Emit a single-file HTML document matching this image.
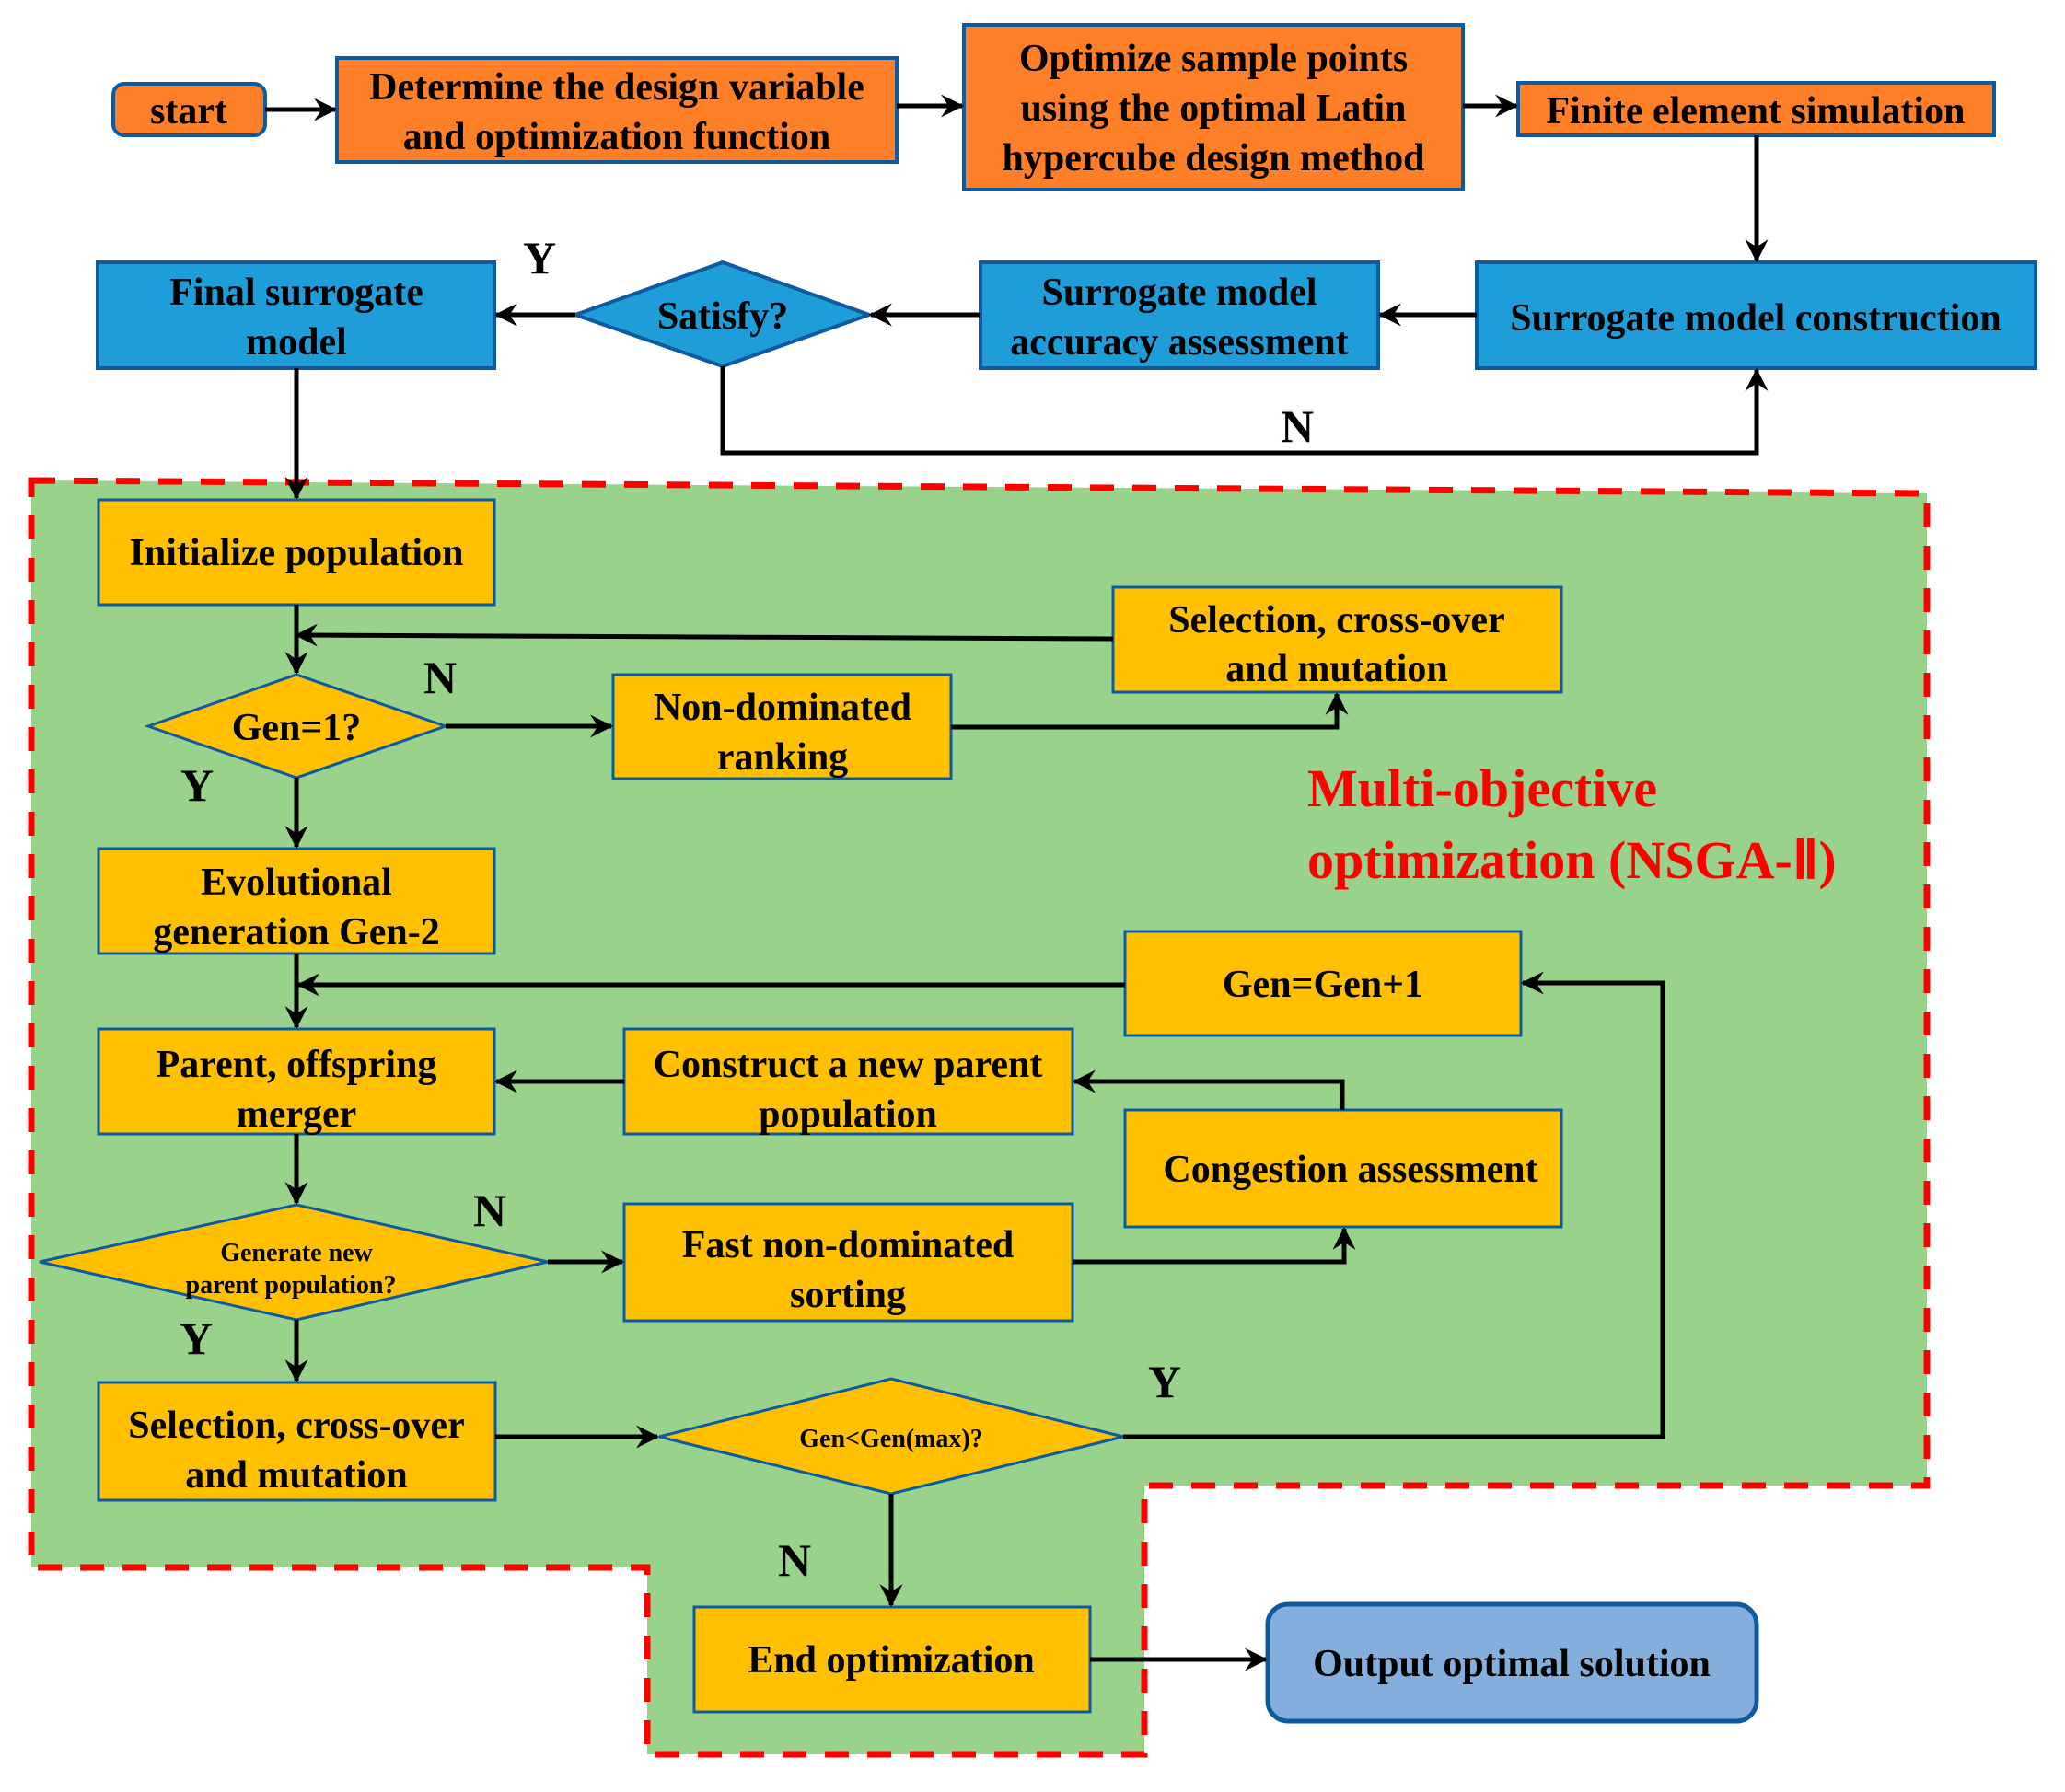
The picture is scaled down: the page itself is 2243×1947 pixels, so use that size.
<!DOCTYPE html>
<html><head><meta charset="utf-8"><style>
html,body{margin:0;padding:0;background:#fff}
svg{display:block}
text{font-family:"Liberation Serif",serif;font-weight:bold;fill:#000;text-anchor:middle}
</style></head><body>
<svg width="2243" height="1947" viewBox="0 0 2243 1947" xmlns="http://www.w3.org/2000/svg">
<defs>
<marker id="a" viewBox="0 0 12 12" refX="11" refY="6" markerWidth="5" markerHeight="5" orient="auto" markerUnits="strokeWidth">
<path d="M0,0 L12,6 L0,12 L4,6 z" fill="#000"/>
</marker>
</defs>
<!-- green region -->
<polygon points="34,522 2093,536 2093,1614 1243,1614 1243,1906 703,1906 703,1703 34,1703" fill="#98d28b" stroke="#ff0000" stroke-width="7" stroke-dasharray="26,20"/>

<g stroke="#0d5aa0" stroke-width="4">
<!-- top row -->
<rect x="123" y="91" width="165" height="56" rx="12" fill="#fd7f27"/>
<rect x="366" y="63" width="608" height="113" fill="#fd7f27"/>
<rect x="1047" y="27" width="542" height="179" fill="#fd7f27"/>
<rect x="1649" y="90" width="517" height="57" fill="#fd7f27"/>
<!-- blue row -->
<rect x="106" y="285" width="431" height="115" fill="#1e9dd8"/>
<polygon points="625,342 785,285 944,342 785,398" fill="#1e9dd8"/>
<rect x="1065" y="285" width="432" height="115" fill="#1e9dd8"/>
<rect x="1604" y="285" width="607" height="115" fill="#1e9dd8"/>
<!-- yellow -->
<g stroke-width="3">
<rect x="107" y="543" width="430" height="114" fill="#fec000"/>
<rect x="1209" y="638" width="487" height="114" fill="#fec000"/>
<polygon points="161,789 322,733 484,789 322,845" fill="#fec000"/>
<rect x="666" y="733" width="367" height="113" fill="#fec000"/>
<rect x="107" y="922" width="430" height="114" fill="#fec000"/>
<rect x="1222" y="1012" width="430" height="113" fill="#fec000"/>
<rect x="107" y="1118" width="430" height="114" fill="#fec000"/>
<rect x="678" y="1118" width="487" height="114" fill="#fec000"/>
<rect x="1222" y="1206" width="474" height="127" fill="#fec000"/>
<polygon points="43,1371 322,1309 595,1371 322,1434" fill="#fec000"/>
<rect x="678" y="1308" width="487" height="127" fill="#fec000"/>
<rect x="107" y="1502" width="431" height="128" fill="#fec000"/>
<polygon points="716,1561 968,1498 1220,1561 968,1623" fill="#fec000"/>
<rect x="754" y="1746" width="430" height="114" fill="#fec000"/>
</g>
<rect x="1377" y="1743" width="531" height="127" rx="22" fill="#84aedc" stroke-width="5"/>
</g>

<!-- connectors -->
<g stroke="#000" stroke-width="5" fill="none" marker-end="url(#a)">
<line x1="288" y1="119" x2="364" y2="119"/>
<line x1="974" y1="115" x2="1045" y2="115"/>
<line x1="1589" y1="115" x2="1647" y2="115"/>
<line x1="1908" y1="147" x2="1908" y2="283"/>
<line x1="1604" y1="342" x2="1499" y2="342"/>
<line x1="1065" y1="342" x2="946" y2="342"/>
<line x1="625" y1="342" x2="539" y2="342"/>
<polyline points="785,398 785,492 1908,492 1908,402"/>
<line x1="322" y1="400" x2="322" y2="541"/>
<line x1="322" y1="657" x2="322" y2="731"/>
<polyline points="1209,694 322,690" marker-end="url(#a)"/>
<line x1="484" y1="789" x2="664" y2="789"/>
<polyline points="1033,790 1452,790 1452,754"/>
<line x1="322" y1="845" x2="322" y2="920"/>
<line x1="1222" y1="1070" x2="324" y2="1070"/>
<line x1="322" y1="1036" x2="322" y2="1116"/>
<line x1="678" y1="1175" x2="539" y2="1175"/>
<polyline points="1458,1206 1458,1175 1167,1175"/>
<line x1="322" y1="1232" x2="322" y2="1307"/>
<line x1="595" y1="1371" x2="676" y2="1371"/>
<polyline points="1165,1371 1460,1371 1460,1335"/>
<line x1="322" y1="1434" x2="322" y2="1500"/>
<line x1="538" y1="1561" x2="714" y2="1561"/>
<polyline points="1220,1561 1806,1561 1806,1068 1654,1068"/>
<line x1="968" y1="1623" x2="968" y2="1744"/>
<line x1="1184" y1="1803" x2="1375" y2="1803"/>
</g>

<!-- text -->
<g font-size="42">
<text x="205" y="134">start</text>
<text x="670" y="108">Determine the design variable</text>
<text x="670" y="162">and optimization function</text>
<text x="1318" y="77">Optimize sample points</text>
<text x="1318" y="131">using the optimal Latin</text>
<text x="1318" y="185">hypercube design method</text>
<text x="1907" y="134">Finite element simulation</text>
<text x="322" y="331">Final surrogate</text>
<text x="322" y="385">model</text>
<text x="785" y="357">Satisfy?</text>
<text x="1281" y="331">Surrogate model</text>
<text x="1281" y="385">accuracy assessment</text>
<text x="1907" y="359">Surrogate model construction</text>
<text x="322" y="614">Initialize population</text>
<text x="1452" y="687">Selection, cross-over</text>
<text x="1452" y="740">and mutation</text>
<text x="322" y="804">Gen=1?</text>
<text x="850" y="782">Non-dominated</text>
<text x="850" y="836">ranking</text>
<text x="322" y="972">Evolutional</text>
<text x="322" y="1026">generation Gen-2</text>
<text x="1437" y="1083">Gen=Gen+1</text>
<text x="322" y="1170">Parent, offspring</text>
<text x="322" y="1224">merger</text>
<text x="921" y="1170">Construct a new parent</text>
<text x="921" y="1224">population</text>
<text x="1467" y="1284">Congestion assessment</text>
<text x="921" y="1366">Fast non-dominated</text>
<text x="921" y="1420">sorting</text>
<text x="322" y="1562">Selection, cross-over</text>
<text x="322" y="1616">and mutation</text>
<text x="968" y="1817">End optimization</text>
<text x="1642" y="1821">Output optimal solution</text>
</g>
<text x="322" y="1370" font-size="28">Generate new</text>
<text x="316" y="1405" font-size="28">parent population?</text>
<text x="968" y="1572" font-size="28">Gen&lt;Gen(max)?</text>
<g font-size="50">
<text x="586" y="297">Y</text>
<text x="1409" y="480">N</text>
<text x="478" y="753">N</text>
<text x="214" y="870">Y</text>
<text x="532" y="1332">N</text>
<text x="213" y="1471">Y</text>
<text x="1265" y="1518">Y</text>
<text x="863" y="1712">N</text>
</g>
<g font-size="58" style="fill:#ff0000" text-anchor="start">
<text x="1420" y="876" style="text-anchor:start;fill:#ff0000">Multi-objective</text>
<text x="1420" y="954" style="text-anchor:start;fill:#ff0000">optimization (NSGA-Ⅱ)</text>
</g>
</svg>
</body></html>
